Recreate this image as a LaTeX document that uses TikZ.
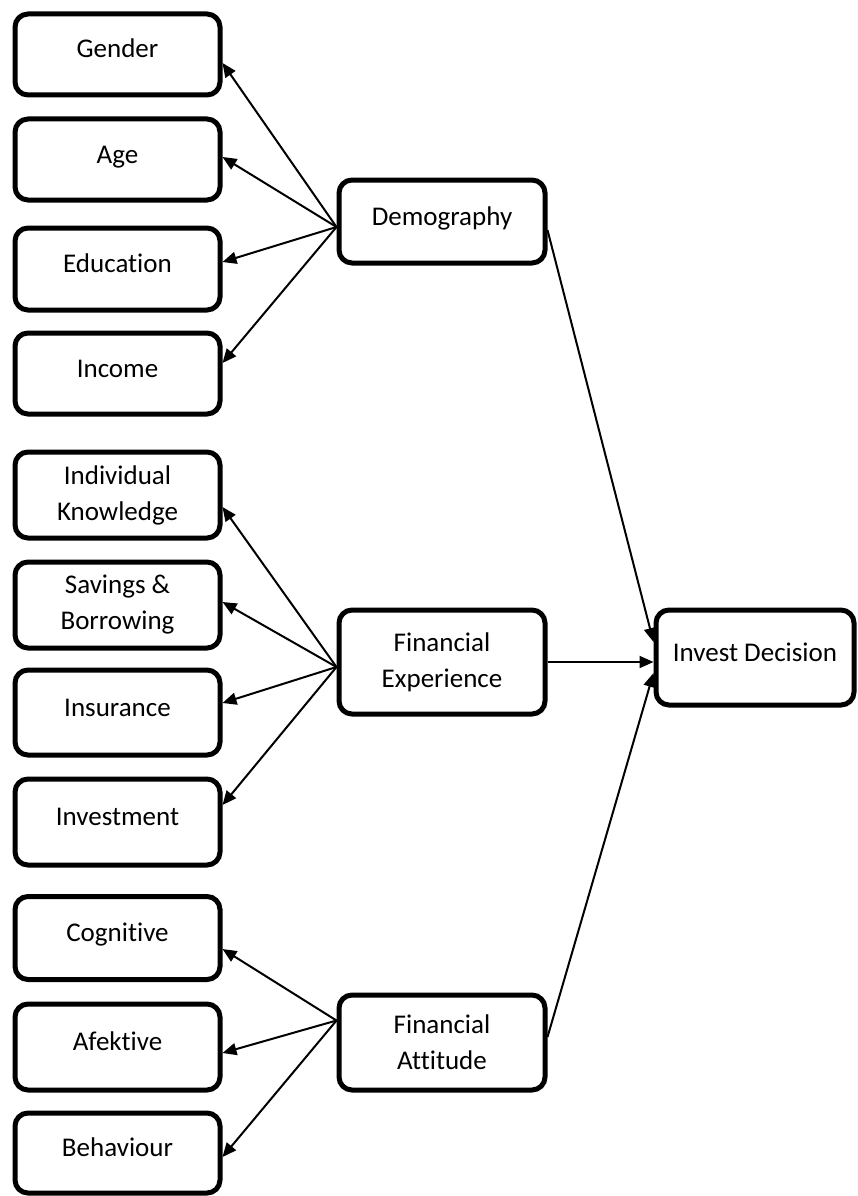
\documentclass[tikz,border=0pt]{standalone}
\usepackage{fontspec}
\setmainfont{Carlito}[Ligatures=NoCommon]
\usetikzlibrary{arrows.meta,calc}
\begin{document}
\begin{tikzpicture}[x=1pt,y=-1pt,
  box/.style={draw,line width=5pt,rounded corners=13pt,minimum width=205pt,inner sep=0pt,
    align=center,font=\fontsize{27}{36}\selectfont,text height=17pt,text depth=10pt},
  multi/.style={text height=,text depth=},
  midbox/.style={box,minimum width=206pt},
  conn/.style={line width=2pt,-{Triangle[length=14pt,width=12pt]}},
]
\useasboundingbox (0,0) rectangle (858,1196);
% left boxes
\node[box,minimum height=81pt] (gender) at (117.5,54.5) {Gender};
\node[box,minimum height=81pt] (age) at (117.5,159.5) {Age};
\node[box,minimum height=82pt] (edu) at (117.5,269) {Education};
\node[box,minimum height=81pt] (income) at (117.5,373.5) {Income};
\node[box,multi,minimum height=86pt] (know) at (117.5,495) {Individual\\Knowledge};
\node[box,multi,minimum height=86pt] (save) at (117.5,605) {Savings \&\\Borrowing};
\node[box,minimum height=85pt] (insur) at (117.5,712.5) {Insurance};
\node[box,minimum height=86pt] (invest) at (117.5,822) {Investment};
\node[box,minimum height=83pt] (cog) at (117.5,938) {Cognitive};
\node[box,minimum height=86pt] (afek) at (117.5,1047) {Afektive};
\node[box,minimum height=80pt] (behav) at (117.5,1153) {Behaviour};
% middle boxes
\node[midbox,minimum height=83pt] (dem) at (442,221.5) {Demography};
\node[midbox,multi,minimum height=104pt] (fe) at (442,662) {Financial\\Experience};
\node[midbox,multi,minimum height=95pt] (fa) at (442,1042.5) {Financial\\Attitude};
% right box
\node[box,minimum width=198pt,minimum height=95pt] (dec) at (755,657.5) {Invest Decision};
% connectors: demography
\draw[conn] ([yshift=-5.5pt]dem.west) -- ([yshift=-8.5pt]gender.east);
\draw[conn] ([yshift=-5.5pt]dem.west) -- ([yshift=2.5pt]age.east);
\draw[conn] ([yshift=-5.5pt]dem.west) -- ([yshift=7pt]edu.east);
\draw[conn] ([yshift=-5.5pt]dem.west) -- ([yshift=10.5pt]income.east);
% financial experience
\draw[conn] ([yshift=-5pt]fe.west) -- ([yshift=-12pt]know.east);
\draw[conn] ([yshift=-5pt]fe.west) -- ([yshift=3pt]save.east);
\draw[conn] ([yshift=-5pt]fe.west) -- ([yshift=9.5pt]insur.east);
\draw[conn] ([yshift=-5pt]fe.west) -- ([yshift=17pt]invest.east);
% financial attitude
\draw[conn] ([yshift=22pt]fa.west) -- ([yshift=-11pt]cog.east);
\draw[conn] ([yshift=22pt]fa.west) -- ([yshift=-6pt]afek.east);
\draw[conn] ([yshift=22pt]fa.west) -- ([yshift=-4pt]behav.east);
% to decision
\draw[conn] ([yshift=-8.5pt]dem.east) -- ([yshift=15.5pt]dec.west);
\draw[conn] (fe.east) -- ([yshift=-4.5pt]dec.west);
\draw[conn] ([yshift=5.5pt]fa.east) -- ([yshift=-15.5pt]dec.west);
\end{tikzpicture}
\end{document}
